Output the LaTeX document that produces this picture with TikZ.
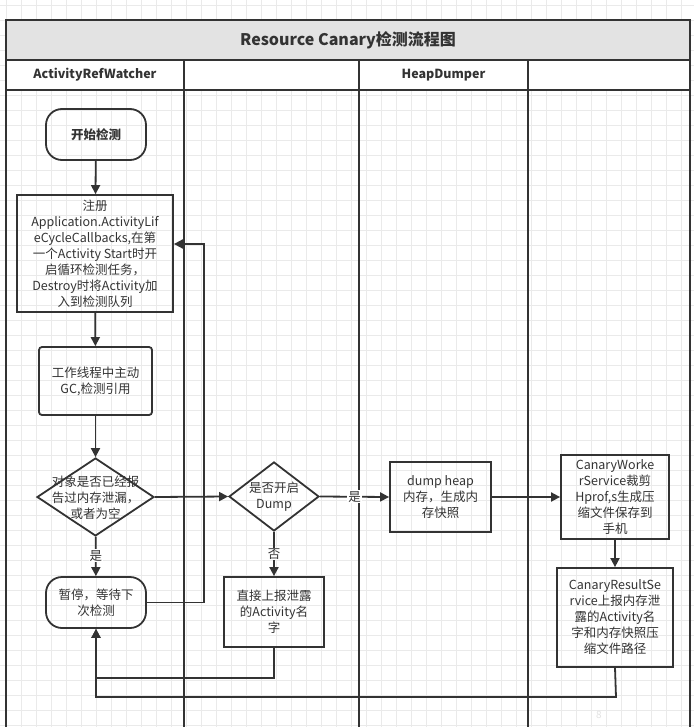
\documentclass[tikz,border=0pt]{standalone}
\usepackage{fontspec}
\setmainfont{Noto Sans CJK SC}
\usetikzlibrary{arrows.meta,shapes.geometric}

\definecolor{ink}{HTML}{333333}
\definecolor{gridline}{HTML}{EAEAEA}
\definecolor{band}{HTML}{E3E3E3}
\definecolor{faint}{HTML}{E2E2E2}

\tikzset{
  txt/.style={text=ink, align=center, font=\fontsize{12.5}{16}\selectfont},
  procbox/.style={txt, draw=ink, line width=1.8pt, rectangle, inner sep=0pt},
  termbox/.style={procbox, rounded corners=16pt},
  decision/.style={draw=ink, line width=1.8pt, diamond, inner sep=0pt},
  lane/.style={draw=ink, line width=2pt},
  conn/.style={draw=ink, line width=1.8pt, -{Triangle[length=9pt,width=9pt]}},
  plain/.style={draw=ink, line width=1.8pt},
  edgelabel/.style={fill=white, text=ink, inner sep=1pt, font=\fontsize{12.5}{15}\selectfont},
}

\begin{document}
\begin{tikzpicture}[x=1pt,y=-1pt]
\useasboundingbox (0,0) rectangle (694,727);
\clip (0,0) rectangle (694,727);

% background grid
\foreach \gx in {6,21,...,696} \draw[gridline, line width=0.8pt] (\gx,0) -- (\gx,727);
\foreach \gy in {5,20,...,725} \draw[gridline, line width=0.8pt] (0,\gy) -- (694,\gy);

% pool: title band and lane header row
\fill[band] (6,20) rectangle (690,60);
\fill[white] (6,60) rectangle (690,90);
\draw[lane] (6,20) rectangle (690,740);
\draw[lane] (6,60) -- (690,60);
\draw[lane] (6,90) -- (690,90);
\foreach \lx in {184,359,528} \draw[lane] (\lx,60) -- (\lx,740);

\node[text=ink, font=\fontsize{16}{18}\selectfont\bfseries] (title) at (348,40) {Resource Canary检测流程图};
\node[text=ink, font=\fontsize{12.5}{15}\selectfont\bfseries] (laneA) at (95,75) {ActivityRefWatcher};
\node[text=ink, font=\fontsize{12.5}{15}\selectfont\bfseries] (laneC) at (443.5,75) {HeapDumper};

% steps
\node[termbox, minimum width=100pt, minimum height=51pt, font=\fontsize{12.5}{16}\selectfont\bfseries] (start) at (96,134.5) {开始检测};
\node[procbox, minimum width=156pt, minimum height=117pt] (reg) at (95,253.5)
  {注册\\Application.ActivityLif\\eCycleCallbacks,在第\\一个Activity Start时开\\启循环检测任务，\\Destroy时将Activity加\\入到检测队列};
\node[procbox, rounded corners=3pt, minimum width=113pt, minimum height=68pt] (gc) at (95.5,381)
  {工作线程中主动\\GC,检测引用};
\node[decision, minimum width=117pt, minimum height=78pt] (check) at (95.5,497) {};
\node[txt] (checktext) at (95.5,498) {对象是否已经报\\告过内存泄漏，\\或者为空};
\node[termbox, minimum width=100pt, minimum height=51pt] (pause) at (96,602.5) {暂停，等待下\\次检测};

\node[decision, minimum width=90pt, minimum height=69pt] (dump) at (274,496.5) {};
\node[txt] (dumptext) at (274,497) {是否开启\\Dump};
\node[procbox, minimum width=100pt, minimum height=70pt] (report) at (274,612)
  {直接上报泄露\\的Activity名\\字};

\node[procbox, minimum width=101pt, minimum height=70pt] (heap) at (440.5,497)
  {dump heap\\内存，生成内\\存快照};

\node[procbox, minimum width=108pt, minimum height=84pt] (worker) at (615,497)
  {CanaryWorke\\rService裁剪\\Hprof,s生成压\\缩文件保存到\\手机};
\node[procbox, minimum width=116pt, minimum height=99pt] (result) at (615,617.5)
  {CanaryResultSe\\rvice上报内存泄\\露的Activity名\\字和内存快照压\\缩文件路径};

\node[text=faint, font=\fontsize{10}{12}\selectfont] (pagemark) at (599,715) {8};

% connectors
\draw[conn] (start) -- (reg);
\draw[conn] (reg) -- (gc);
\draw[conn] (gc) -- (check);
\draw[conn] (check) -- node[edgelabel, pos=0.48] (yesA) {是} (pause);
\draw[conn] (check.east) -- (dump.west);
\draw[conn] (dump.east) -- node[edgelabel, pos=0.5] (yesB) {是} (heap.west);
\draw[conn] (dump.south) -- node[edgelabel, pos=0.5] (noB) {否} (report.north);
\draw[conn] (heap.east) -- (worker.west);
\draw[conn] (worker) -- (result);

\coordinate (loopTop) at (204,244);
\draw[conn] (pause.east) -| (loopTop) -- (reg.east |- loopTop);

\coordinate (reportTurn) at (274,678);
\draw[conn] (report.south) -- (reportTurn) -| (pause.south);
\coordinate (resultTurn) at (616,697);
\draw[conn] (result.south) -- (resultTurn) -| (pause.south);
\end{tikzpicture}
\end{document}
